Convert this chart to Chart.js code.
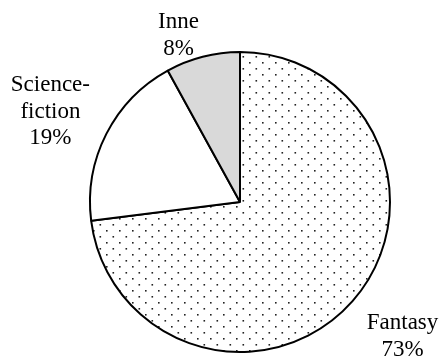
<!DOCTYPE html>
<html>
<head>
<meta charset="utf-8">
<script src="https://cdn.jsdelivr.net/npm/chart.js@4"></script>
<style>
  html, body { margin: 0; padding: 0; background: #fff; }
  canvas { display: block; }
</style>
</head>
<body>
<canvas id="genreChart" width="441" height="356"></canvas>
<script>
// Genre shares (percent), drawn clockwise from the top
const categories = [['Fantasy'], ['Science-', 'fiction'], ['Inne']];
const shares = [73, 19, 8];

// small nudges for the outside labels: [extra x gap, y shift]
const labelNudge = [[3, 23.5], [3, -17], [0, -8]];

const FONT = '23px "Liberation Serif", "Times New Roman", serif';
const LINE_H = 26.7;
const CAP_H = 15.2;

// dotted fill for the big slice
function dotPattern() {
    const c = document.createElement('canvas');
    c.width = 13;
    c.height = 12;
    const g = c.getContext('2d');
    g.fillStyle = '#fff';
    g.fillRect(0, 0, 13, 12);
    g.fillStyle = '#222';
    g.fillRect(2, 2, 1.6, 1.6);
    g.fillRect(8.5, 8, 1.6, 1.6);
    return g.createPattern(c, 'repeat');
}

const outsideLabels = {
    id: 'outsideLabels',
    afterDatasetsDraw(chart) {
        const ctx = chart.ctx;
        const meta = chart.getDatasetMeta(0);
        ctx.save();
        ctx.font = FONT;
        ctx.fillStyle = '#000';
        ctx.textAlign = 'center';
        ctx.textBaseline = 'alphabetic';
        meta.data.forEach((arc, i) => {
            const p = arc.getProps(['x', 'y', 'startAngle', 'endAngle', 'outerRadius'], true);
            const mid = (p.startAngle + p.endAngle) / 2;
            const ax = p.x + Math.cos(mid) * p.outerRadius * 1.1;
            const ay = p.y + Math.sin(mid) * p.outerRadius * 1.1;
            const lines = categories[i].concat([shares[i] + '%']);
            const w = Math.max(...lines.map(l => ctx.measureText(l).width));
            const side = Math.cos(mid) >= 0 ? 1 : -1;
            const cx = ax + side * (w / 2 + labelNudge[i][0]);
            const cy = ay + labelNudge[i][1];
            lines.forEach((l, k) => {
                const base = cy - (lines.length - 1) / 2 * LINE_H + k * LINE_H + CAP_H / 2;
                ctx.fillText(l, cx, base);
            });
        });
        ctx.restore();
    }
};

new Chart(document.getElementById('genreChart'), {
    type: 'pie',
    data: {
        labels: categories.map(c => c.join(' ')),
        datasets: [{
            data: shares,
            backgroundColor: [dotPattern(), '#ffffff', '#d9d9d9'],
            borderColor: '#000',
            borderWidth: 2
        }]
    },
    options: {
        responsive: false,
        animation: false,
        layout: { padding: { left: 89, right: 50, top: 51, bottom: 3 } },
        plugins: {
            legend: { display: false },
            tooltip: { enabled: false }
        }
    },
    plugins: [outsideLabels]
});
</script>
</body>
</html>
